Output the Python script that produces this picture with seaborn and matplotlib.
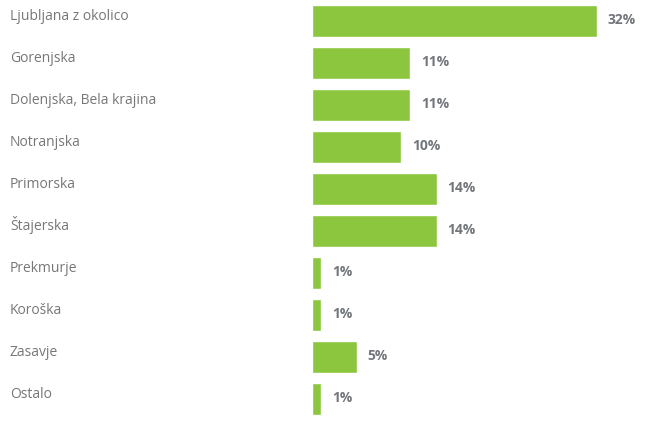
import numpy as np
import pandas as pd
import matplotlib.pyplot as plt
import seaborn as sns

# Data
regions = ['Ljubljana z okolico', 'Gorenjska', 'Dolenjska, Bela krajina', 'Notranjska',
           'Primorska', 'Štajerska', 'Prekmurje', 'Koroška', 'Zasavje', 'Ostalo']
shares = [32, 11, 11, 10, 14, 14, 1, 1, 5, 1]

df = pd.DataFrame({'region': regions, 'share': shares})

sns.set_style('white')
plt.rcParams['font.family'] = ['Open Sans', 'DejaVu Sans']

W, H = 650, 428
fig = plt.figure(figsize=(W / 100, H / 100), dpi=100)
# axes in pixel units: left edge of bars at x=312, rows every 42 px from top
ax = fig.add_axes([312 / W, (H - 420) / H, (W - 312) / W, 420 / H])

sns.barplot(data=df, x='share', y='region', color='#8cc63f', saturation=1,
            width=0.77, ax=ax, orient='h')

ax.set_xlim(0, (W - 312) / 8.906)
ax.set_ylim(len(regions) - 0.5, -0.5)
ax.set_axis_off()

ytr = ax.get_yaxis_transform()
x_lab = (10 - 312) / (W - 312)
for i, (reg, val) in enumerate(zip(regions, shares)):
    ax.text(x_lab, i - 0.03, reg, transform=ytr, ha='left', va='baseline',
            fontsize=10, color='#777777')
    ax.text(val + 11 / 8.906, i + 0.07, f'{val}%', ha='left', va='baseline',
            fontsize=10, fontweight='bold', color='#73777c')

plt.savefig('out.png', dpi=100)
